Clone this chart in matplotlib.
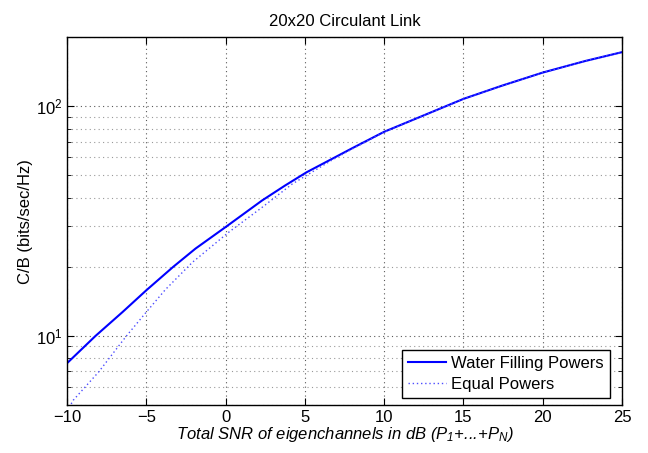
import matplotlib
matplotlib.use("Agg")
import matplotlib.pyplot as plt
from matplotlib.ticker import LogLocator, NullFormatter, MultipleLocator

plt.rcParams['font.family'] = ['Liberation Sans', 'DejaVu Sans']
plt.rcParams['mathtext.fontset'] = 'custom'
plt.rcParams['mathtext.rm'] = 'Liberation Sans'
plt.rcParams['mathtext.it'] = 'Liberation Sans:italic'
plt.rcParams['mathtext.default'] = 'regular'

wf_snr_db = [-10, -8.2, -6.5, -5, -3.3, -1.9, 0, 2.3, 3.75, 5.1, 6.7, 8, 10, 12.2, 15, 17.4, 20, 22.7, 25]
water_filling = [7.6, 10.0, 12.7, 15.8, 20.0, 24.0, 29.8, 38.9, 45.2, 51.6, 59.0, 65.8, 77.5, 89.6, 107.8, 122.9, 140.4, 157.8, 172.3]

eq_snr_db = [-10, -9.6, -8, -6.3, -5, -3.8, -2.1, 0.2, 2.3, 4.2, 6.7, 8, 10, 12.2, 15, 17.4, 20, 22.7, 25]
equal_powers = [4.7, 5.25, 6.97, 9.9, 12.7, 15.9, 20.9, 28.3, 36.3, 45.9, 58.3, 65.3, 77.3, 89.5, 107.7, 122.8, 140.3, 157.7, 172.2]

title = "20x20 Circulant Link"
xlabel = "Total SNR of eigenchannels in dB (P$_1$+...+P$_N$)"
ylabel = "C/B (bits/sec/Hz)"
legend_labels = ["Water Filling Powers", "Equal Powers"]

fig = plt.figure(figsize=(6.48, 4.53), dpi=100)
ax = fig.add_axes([0.1034, 0.106, 0.8566, 0.8117])

ax.semilogy(wf_snr_db, water_filling, color='#0000ff', lw=1.5, label=legend_labels[0])
ax.semilogy(eq_snr_db, equal_powers, color='#4d4dff', lw=1.0, ls=(0, (1, 2)), label=legend_labels[1])

ax.set_xlim(-10, 25)
ax.set_ylim(5, 200)
ax.xaxis.set_major_locator(MultipleLocator(5))
ax.yaxis.set_major_locator(LogLocator(base=10, numticks=10))
ax.yaxis.set_minor_locator(LogLocator(base=10, subs=range(2, 10), numticks=20))
ax.yaxis.set_minor_formatter(NullFormatter())

ax.grid(True, which='major', ls=(0, (1, 3)), color='0.35', lw=0.8)
ax.grid(True, which='minor', axis='y', ls=(0, (1, 3)), color='0.6', lw=0.8)

ax.tick_params(which='both', direction='in', top=True, right=True, labelsize=12)
ax.tick_params(which='major', length=5, width=0.8)
ax.tick_params(which='minor', length=3, width=0.6)
for s in ax.spines.values():
    s.set_linewidth(1.0)

ax.set_title(title, fontsize=12, pad=8)
ax.set_xlabel(xlabel, fontsize=12, fontstyle='italic', labelpad=0)
ax.set_ylabel(ylabel, fontsize=12, labelpad=2)

leg = ax.legend(loc='lower right', bbox_to_anchor=(0.978, 0.019), fontsize=12, fancybox=False,
                framealpha=1, edgecolor='black', borderpad=0.35, labelspacing=0.35,
                handlelength=2.3, handletextpad=0.3, borderaxespad=0)
leg.get_frame().set_linewidth(1.0)

fig.savefig("out.png", dpi=100)
